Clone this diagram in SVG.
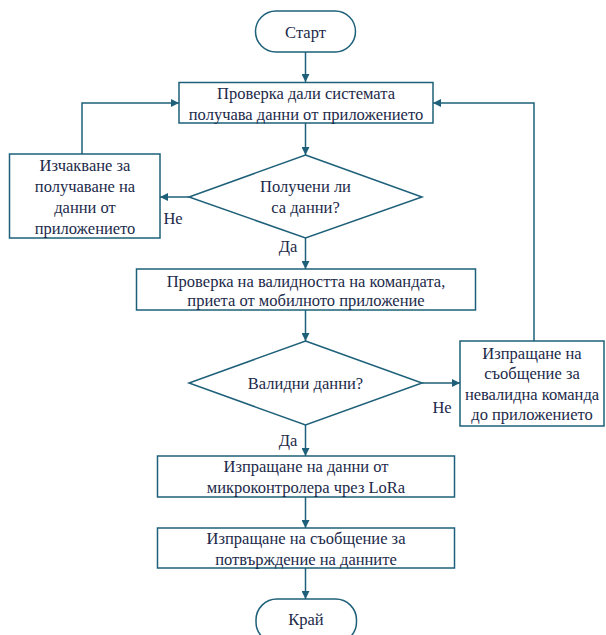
<svg xmlns="http://www.w3.org/2000/svg" width="606" height="635" viewBox="0 0 606 635">
<defs>
<style>
.n{fill:#ffffff;stroke:#1e6079;stroke-width:1.5}
.c{fill:none;stroke:#1e6079;stroke-width:1.5}
.t text{font-size:16.5px;fill:#1c2a4a;text-anchor:middle;dominant-baseline:central}
</style>
<marker id="a" viewBox="0 0 10 10" refX="10" refY="5" markerWidth="8" markerHeight="8" markerUnits="userSpaceOnUse" orient="auto">
<path d="M0,0 L10,5 L0,10 Z" fill="#1e6079"/>
</marker>
</defs>
<rect width="606" height="635" fill="#ffffff"/>
<g class="t" font-family="'Liberation Serif', 'Times New Roman', 'DejaVu Serif', serif">
<g id="connectors">
<path class="c" d="M305.5,52 V82" marker-end="url(#a)"/>
<path class="c" d="M305.5,123 V155" marker-end="url(#a)"/>
<path class="c" d="M189,197 H160" marker-end="url(#a)"/>
<path class="c" d="M82,154 V103 H179" marker-end="url(#a)"/>
<path class="c" d="M305.5,238 V269" marker-end="url(#a)"/>
<path class="c" d="M305.5,310 V341" marker-end="url(#a)"/>
<path class="c" d="M422,383 H460" marker-end="url(#a)"/>
<path class="c" d="M534,341 V103 H433" marker-end="url(#a)"/>
<path class="c" d="M305.5,425 V456" marker-end="url(#a)"/>
<path class="c" d="M305.5,497 V528" marker-end="url(#a)"/>
<path class="c" d="M305.5,568 V599" marker-end="url(#a)"/>
<text x="173" y="218">Не</text>
<text x="288" y="246">Да</text>
<text x="442" y="407">Не</text>
<text x="288" y="440">Да</text>
</g>
<g id="start">
<rect class="n" x="255.5" y="11" width="100" height="41" rx="20.5"/>
<text x="305.5" y="32">Старт</text>
</g>
<g id="check-receive">
<rect class="n" x="179" y="82.5" width="254" height="40.5"/>
<text x="306" y="93">Проверка дали системата</text>
<text x="306" y="114">получава данни от приложението</text>
</g>
<g id="received-decision">
<polygon class="n" points="305.5,155 422,197 305.5,238 189,197"/>
<text x="305.5" y="186">Получени ли</text>
<text x="305.5" y="207">са данни?</text>
</g>
<g id="wait">
<rect class="n" x="9.5" y="154" width="150.5" height="84"/>
<text x="85" y="165">Изчакване за</text>
<text x="85" y="186">получаване на</text>
<text x="85" y="207">данни от</text>
<text x="85" y="228">приложението</text>
</g>
<g id="validate">
<rect class="n" x="136.5" y="269" width="339" height="41"/>
<text x="306" y="281">Проверка на валидността на командата,</text>
<text x="306" y="300">приета от мобилното приложение</text>
</g>
<g id="valid-decision">
<polygon class="n" points="305.5,341 422,383 305.5,425 189,383"/>
<text x="305.5" y="383">Валидни данни?</text>
</g>
<g id="invalid-msg">
<rect class="n" x="460" y="341" width="144" height="85"/>
<text x="532" y="353">Изпращане на</text>
<text x="532" y="373">съобщение за</text>
<text x="532" y="394">невалидна команда</text>
<text x="532" y="414">до приложението</text>
</g>
<g id="send-lora">
<rect class="n" x="157.5" y="456" width="297" height="41"/>
<text x="306" y="466">Изпращане на данни от</text>
<text x="306" y="487">микроконтролера чрез LoRa</text>
</g>
<g id="confirm">
<rect class="n" x="157.5" y="528" width="297" height="40"/>
<text x="306" y="538">Изпращане на съобщение за</text>
<text x="306" y="559">потвърждение на данните</text>
</g>
<g id="end">
<rect class="n" x="256" y="599" width="100.5" height="44" rx="21"/>
<text x="306" y="619">Край</text>
</g>
</g>
</svg>
